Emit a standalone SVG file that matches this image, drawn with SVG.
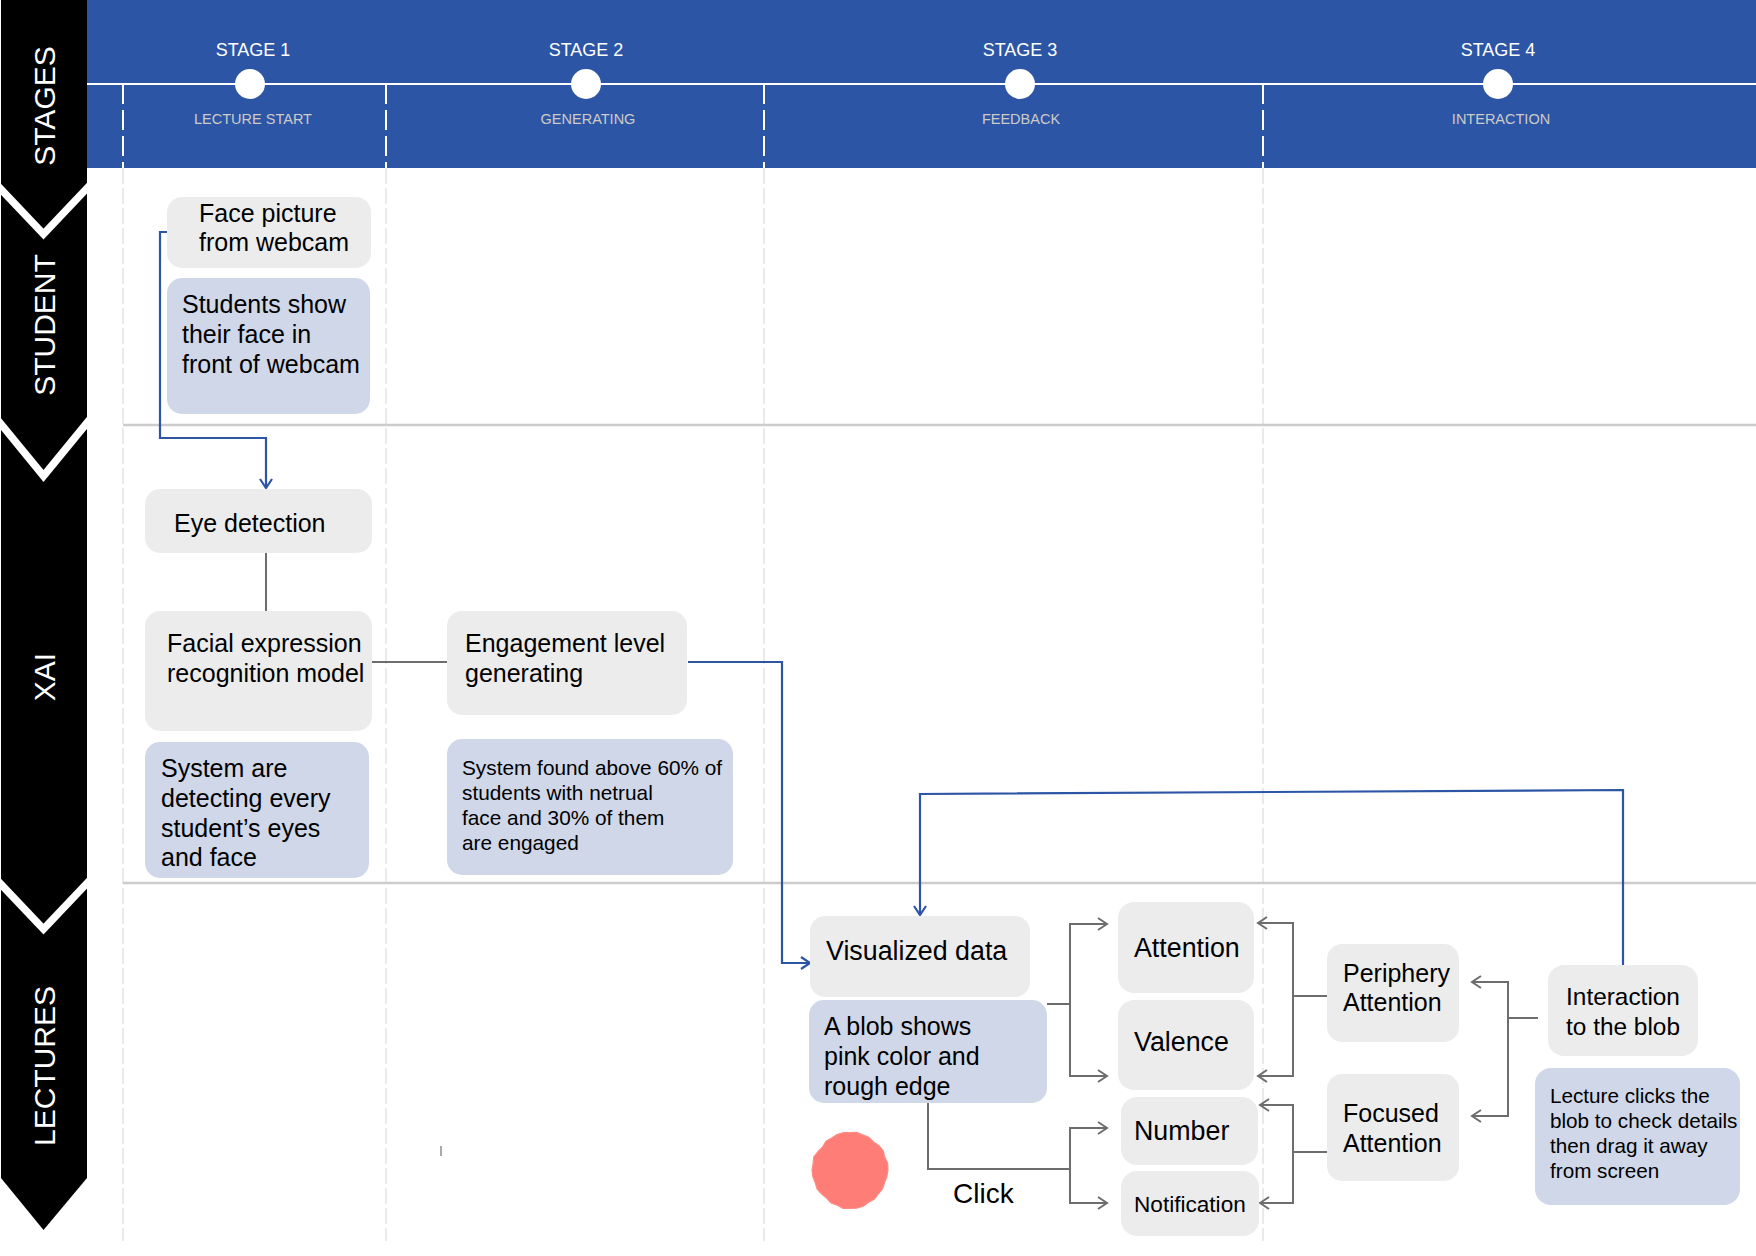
<svg xmlns="http://www.w3.org/2000/svg" width="1756" height="1256" viewBox="0 0 1756 1256">
  <defs>
    <style>
      .t { font-family: "Liberation Sans", Arial, sans-serif; fill: #000; }
      .f25 { font-size: 25px; }
      .f27 { font-size: 26.8px; }
      .f21 { font-size: 20.8px; }
      .lane { font-family: "Liberation Sans", Arial, sans-serif; font-size: 30px; fill: #fff; text-anchor: middle; }
      .stage { font-family: "Liberation Sans", Arial, sans-serif; font-size: 18px; fill: #fff; text-anchor: middle; }
      .sub { font-family: "Liberation Sans", Arial, sans-serif; font-size: 14.5px; fill: #cdcbc8; text-anchor: middle; }
      .gray { fill: #ececec; }
      .blue { fill: #cfd7e8; }
      .c-gray { fill: none; stroke: #6d6d6d; stroke-width: 2; }
      .c-blue { fill: none; stroke: #2c55a5; stroke-width: 2.2; }
      .div-body { stroke: #e4e4e4; stroke-width: 1.5; stroke-dasharray: 16 4; }
      .div-head { stroke: #ffffff; stroke-width: 2; stroke-dasharray: 20 6; }
      .lane-line { stroke: #cccccc; stroke-width: 2.5; }
    </style>
    <marker id="ahGray" markerUnits="userSpaceOnUse" markerWidth="16" markerHeight="16" viewBox="-12 -8 14 16" refX="0" refY="0" orient="auto">
      <path d="M-9,-6 L0,0 L-9,6" fill="none" stroke="#6d6d6d" stroke-width="2"/>
    </marker>
    <marker id="ahBlue" markerUnits="userSpaceOnUse" markerWidth="16" markerHeight="16" viewBox="-12 -8 14 16" refX="0" refY="0" orient="auto">
      <path d="M-9,-6 L0,0 L-9,6" fill="none" stroke="#2c55a5" stroke-width="2.2"/>
    </marker>
  </defs>

  <rect width="1756" height="1256" fill="#ffffff"/>

  <!-- stage header band -->
  <g id="stage-header">
    <rect x="87" y="0" width="1669" height="168" fill="#2c55a5"/>
    <line x1="87" y1="84" x2="1756" y2="84" stroke="#ffffff" stroke-width="2"/>
    <g>
      <line class="div-head" x1="123" y1="84" x2="123" y2="168"/>
      <line class="div-head" x1="386" y1="84" x2="386" y2="168"/>
      <line class="div-head" x1="764" y1="84" x2="764" y2="168"/>
      <line class="div-head" x1="1263" y1="84" x2="1263" y2="168"/>
    </g>
    <g fill="#ffffff">
      <circle cx="250" cy="84" r="15"/>
      <circle cx="586" cy="84" r="15"/>
      <circle cx="1020" cy="84" r="15"/>
      <circle cx="1498" cy="84" r="15"/>
    </g>
    <text class="stage" x="253" y="56">STAGE 1</text>
    <text class="stage" x="586" y="56">STAGE 2</text>
    <text class="stage" x="1020" y="56">STAGE 3</text>
    <text class="stage" x="1498" y="56">STAGE 4</text>
    <text class="sub" x="253" y="124">LECTURE START</text>
    <text class="sub" x="588" y="124">GENERATING</text>
    <text class="sub" x="1021" y="124">FEEDBACK</text>
    <text class="sub" x="1501" y="124">INTERACTION</text>
  </g>

  <!-- swimlane grid -->
  <g id="lanes">
    <line class="div-body" x1="123" y1="168" x2="123" y2="1241"/>
    <line class="div-body" x1="386" y1="168" x2="386" y2="1241"/>
    <line class="div-body" x1="764" y1="168" x2="764" y2="1241"/>
    <line class="div-body" x1="1263" y1="168" x2="1263" y2="1241"/>
    <line class="lane-line" x1="123" y1="425" x2="1756" y2="425"/>
    <line class="lane-line" x1="123" y1="883" x2="1756" y2="883"/>
  </g>

  <!-- lane title arrow column -->
  <g id="lane-titles">
    <path d="M1,0 H87 V1178 L43.5,1230 L1,1178 Z" fill="#000000"/>
    <g fill="none" stroke="#ffffff" stroke-width="7.5" stroke-linejoin="miter" stroke-miterlimit="10">
      <polyline points="-4,184 43.5,234 91,184"/>
      <polyline points="-4,418 43.5,476 91,418"/>
      <polyline points="-4,879 43.5,929 91,879"/>
    </g>
    <text class="lane" transform="translate(55,106) rotate(-90)">STAGES</text>
    <text class="lane" transform="translate(55,325) rotate(-90)">STUDENT</text>
    <text class="lane" transform="translate(55,677) rotate(-90)">XAI</text>
    <text class="lane" transform="translate(55,1066) rotate(-90)">LECTURES</text>
  </g>

  <!-- connectors -->
  <g id="connectors">
    <path class="c-blue" d="M167,232 H160 V438 H266 V488" marker-end="url(#ahBlue)"/>
    <path class="c-blue" d="M688,662 H782 V963 H810" marker-end="url(#ahBlue)"/>
    <path class="c-blue" d="M1623,965 V790 L920,794 V915" marker-end="url(#ahBlue)"/>

    <path class="c-gray" d="M266,553 V611"/>
    <path class="c-gray" d="M372,662 H447"/>

    <path class="c-gray" d="M1047,1004 H1070 V924 H1107" marker-end="url(#ahGray)"/>
    <path class="c-gray" d="M1070,1004 V1076 H1107" marker-end="url(#ahGray)"/>

    <path class="c-gray" d="M928,1103 V1169 H1070 V1128 H1107" marker-end="url(#ahGray)"/>
    <path class="c-gray" d="M1070,1169 V1203 H1107" marker-end="url(#ahGray)"/>

    <path class="c-gray" d="M1327,996 H1293 V923 H1258" marker-end="url(#ahGray)"/>
    <path class="c-gray" d="M1293,996 V1076 H1258" marker-end="url(#ahGray)"/>

    <path class="c-gray" d="M1327,1152 H1293 V1105 H1260" marker-end="url(#ahGray)"/>
    <path class="c-gray" d="M1293,1152 V1203 H1260" marker-end="url(#ahGray)"/>

    <path class="c-gray" d="M1538,1018 H1508 V982 H1472" marker-end="url(#ahGray)"/>
    <path class="c-gray" d="M1508,1018 V1116 H1472" marker-end="url(#ahGray)"/>
  </g>

  <!-- STUDENT lane -->
  <g id="face-picture">
    <rect class="gray" x="167" y="197" width="204" height="71" rx="15"/>
    <text class="t f25" x="199" y="222">Face picture</text>
    <text class="t f25" x="199" y="251">from webcam</text>
  </g>
  <g id="students-show">
    <rect class="blue" x="167" y="278" width="203" height="136" rx="15"/>
    <text class="t f25" x="182" y="313">Students show</text>
    <text class="t f25" x="182" y="343">their face in</text>
    <text class="t f25" x="182" y="373">front of webcam</text>
  </g>

  <!-- XAI lane -->
  <g id="eye-detection">
    <rect class="gray" x="145" y="489" width="227" height="64" rx="15"/>
    <text class="t f25" x="174" y="532">Eye detection</text>
  </g>
  <g id="facial-expression">
    <rect class="gray" x="145" y="611" width="227" height="120" rx="15"/>
    <text class="t f25" x="167" y="652">Facial expression</text>
    <text class="t f25" x="167" y="682">recognition model</text>
  </g>
  <g id="system-detecting">
    <rect class="blue" x="145" y="742" width="224" height="136" rx="15"/>
    <text class="t f25" x="161" y="777">System are</text>
    <text class="t f25" x="161" y="807">detecting every</text>
    <text class="t f25" x="161" y="837">student’s eyes</text>
    <text class="t f25" x="161" y="866">and face</text>
  </g>
  <g id="engagement-level">
    <rect class="gray" x="447" y="611" width="240" height="104" rx="15"/>
    <text class="t f25" x="465" y="652">Engagement level</text>
    <text class="t f25" x="465" y="682">generating</text>
  </g>
  <g id="system-found">
    <rect class="blue" x="447" y="739" width="286" height="136" rx="15"/>
    <text class="t f21" x="462" y="775">System found above 60% of</text>
    <text class="t f21" x="462" y="800">students with netrual</text>
    <text class="t f21" x="462" y="825">face and 30% of them</text>
    <text class="t f21" x="462" y="850">are engaged</text>
  </g>

  <!-- LECTURES lane -->
  <g id="visualized-data">
    <rect class="gray" x="810" y="916" width="220" height="81" rx="15"/>
    <text class="t f27" x="826" y="960">Visualized data</text>
  </g>
  <g id="blob-description">
    <rect class="blue" x="809" y="1000" width="238" height="103" rx="15"/>
    <text class="t f25" x="824" y="1035">A blob shows</text>
    <text class="t f25" x="824" y="1065">pink color and</text>
    <text class="t f25" x="824" y="1095">rough edge</text>
  </g>
  <g id="blob">
    <path d="M888,1170 L886.9,1176.5 L884.6,1182.6 L882.5,1188.8 L878.3,1193.8 L874.4,1199.1 L868.6,1202.2 L863.2,1206.2 L856.7,1208.2 L850,1208.5 L843.2,1208.4 L837.2,1205.2 L831,1202.9 L826.5,1198 L821.5,1193.9 L817.1,1189 L815.2,1182.7 L812.8,1176.6 L812,1170 L813.1,1163.5 L813.8,1156.8 L818,1151.5 L822.6,1147 L825.9,1141.3 L831.6,1138.1 L837.1,1134.5 L843.4,1132.6 L850,1132.5 L856.6,1132.4 L862.8,1134.9 L868.9,1137.3 L873.5,1142 L879,1145.7 L883.3,1150.8 L884.8,1157.3 L887.7,1163.3 Z" fill="#ff7d77" stroke="#ff8b85" stroke-width="1.2" stroke-linejoin="round"/>
  </g>
  <g id="click-label">
    <text class="t" x="953" y="1203" font-size="28">Click</text>
  </g>
  <line x1="441" y1="1146" x2="441" y2="1156" stroke="#555555" stroke-width="1"/>

  <g id="attention">
    <rect class="gray" x="1118" y="902" width="136" height="91" rx="16"/>
    <text class="t f27" x="1134" y="957">Attention</text>
  </g>
  <g id="valence">
    <rect class="gray" x="1118" y="1000" width="136" height="90" rx="16"/>
    <text class="t f27" x="1134" y="1051">Valence</text>
  </g>
  <g id="number">
    <rect class="gray" x="1121" y="1097" width="137" height="68" rx="16"/>
    <text class="t f27" x="1134" y="1140">Number</text>
  </g>
  <g id="notification">
    <rect class="gray" x="1121" y="1171" width="138" height="65" rx="16"/>
    <text class="t" x="1134" y="1212" font-size="22.6">Notification</text>
  </g>
  <g id="periphery-attention">
    <rect class="gray" x="1327" y="944" width="132" height="98" rx="15"/>
    <text class="t f25" x="1343" y="982">Periphery</text>
    <text class="t f25" x="1343" y="1011">Attention</text>
  </g>
  <g id="focused-attention">
    <rect class="gray" x="1327" y="1074" width="132" height="107" rx="15"/>
    <text class="t f25" x="1343" y="1122">Focused</text>
    <text class="t f25" x="1343" y="1152">Attention</text>
  </g>
  <g id="interaction">
    <rect class="gray" x="1548" y="965" width="150" height="91" rx="16"/>
    <text class="t" x="1623" y="1005" font-size="24.4" text-anchor="middle">Interaction</text>
    <text class="t" x="1623" y="1035" font-size="24.4" text-anchor="middle">to the blob</text>
  </g>
  <g id="lecture-clicks">
    <rect class="blue" x="1535" y="1068" width="205" height="137" rx="16"/>
    <text class="t" x="1550" y="1103" font-size="20.7">Lecture clicks the</text>
    <text class="t" x="1550" y="1128" font-size="20.7">blob to check details</text>
    <text class="t" x="1550" y="1153" font-size="20.7">then drag it away</text>
    <text class="t" x="1550" y="1178" font-size="20.7">from screen</text>
  </g>
</svg>
